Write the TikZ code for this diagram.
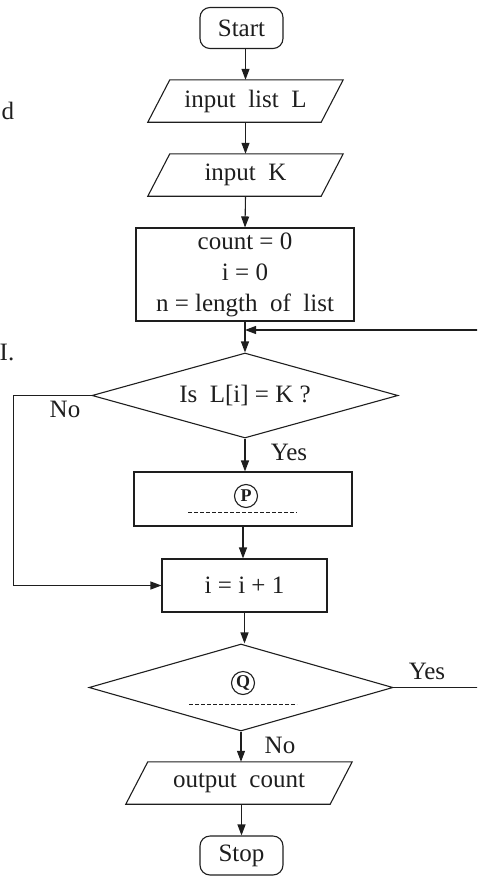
\documentclass[tikz,border=0pt]{standalone}
\usepackage{fontspec}
\setmainfont{Liberation Serif}
\usetikzlibrary{shapes.geometric,arrows.meta}
\definecolor{ink}{HTML}{1E1E1E}
\newcommand{\drawio}[1]{\draw[ln] ([xshift=11pt]#1.north west) -- ([xshift=11pt]#1.north east) -- ([xshift=-11pt]#1.south east) -- ([xshift=-11pt]#1.south west) -- cycle;}
\begin{document}
\begin{tikzpicture}[x=1pt,y=-1pt,
  every node/.style={font=\fontsize{25}{29}\selectfont, text=ink},
  ln/.style={draw=ink, line width=1.1pt},
  arr/.style={ln, -{Triangle[length=11pt,width=8pt]}},
  term/.style={ln, rounded corners=10pt, minimum width=83pt, minimum height=41pt, inner sep=0pt},
  procbox/.style={ln, inner sep=0pt},
  iobox/.style={minimum height=42pt, inner sep=0pt},
  decision/.style={ln, diamond, shape aspect=3.6, inner sep=0pt},
  circlab/.style={draw=ink, circle, line width=1.1pt, inner sep=0.5pt, minimum size=23pt, font=\fontsize{18}{18}\selectfont\bfseries},
  blank/.style={draw=ink, line width=0.9pt, dash pattern=on 4pt off 2pt}
]
\useasboundingbox (0,0) rectangle (477,876);
\clip (0,0) rectangle (477,876);

% nodes
\node[term] (start) at (241.5,28) {Start};
\node[iobox, minimum width=173pt] (inL) at (245.5,101) {input\ \ list\ \ L};
\drawio{inL}
\node[iobox, minimum width=173pt] (inK) at (245.5,175) {input\ \ K};
\drawio{inK}
\node[procbox, minimum width=218pt, minimum height=93pt, align=center, font=\fontsize{25}{31}\selectfont] (init) at (245,274.5) {count = 0\\ i = 0\\ n = length\ \ of\ \ list};
\coordinate (J) at (245,330);
\node[decision, minimum width=306pt, minimum height=85pt] (d1) at (245,395.5) {Is\ \ L[i] = K ?};
\node[procbox, minimum width=218pt, minimum height=54pt] (pbox) at (243,499) {};
\node[circlab] (plab) at (246,496) {P};
\draw[blank] (188,512) -- (297,512);
\node[procbox, minimum width=165pt, minimum height=53pt] (ibox) at (244.5,585.5) {i = i + 1};
\node[decision, minimum width=304pt, minimum height=87pt] (d2) at (241,687.5) {};
\node[circlab] (qlab) at (243,683) {Q};
\draw[blank] (189,704) -- (297,704);
\node[iobox, minimum width=204pt] (out) at (239,783) {output\ \ count};
\drawio{out}
\node[term, minimum height=39pt] (stop) at (241.5,855.5) {Stop};

% labels
\node (no1) at (65,409) {No};
\node (yes1) at (289,452) {Yes};
\node (yes2) at (427,671) {Yes};
\node (no2) at (280,745) {No};
\node (sd) at (8,111) {d};
\node (si) at (7,352) {I.};

% connectors
\draw[arr] (inL.north |- start.south) -- (inL.north);
\draw[arr] (inL.south) -- (inK.north);
\draw[arr] (inK.south) -- (init.north);
\draw[arr] (init.south) -- (d1.north);
\draw[arr] (d1.south) -- (d1.south |- pbox.north);
\draw[arr] (pbox.south) -- (pbox.south |- ibox.north);
\draw[arr] (ibox.south) -- (ibox.south |- d2.north);
\draw[arr] (d2.south) -- (d2.south |- out.north);
\draw[arr] (stop.north |- out.south) -- (stop.north);
\draw[arr] (d1.west) -- ++(-78,0) |- (ibox.west);
\draw[arr] (d2.east) -- ++(100,0) |- (J);
\end{tikzpicture}
\end{document}
